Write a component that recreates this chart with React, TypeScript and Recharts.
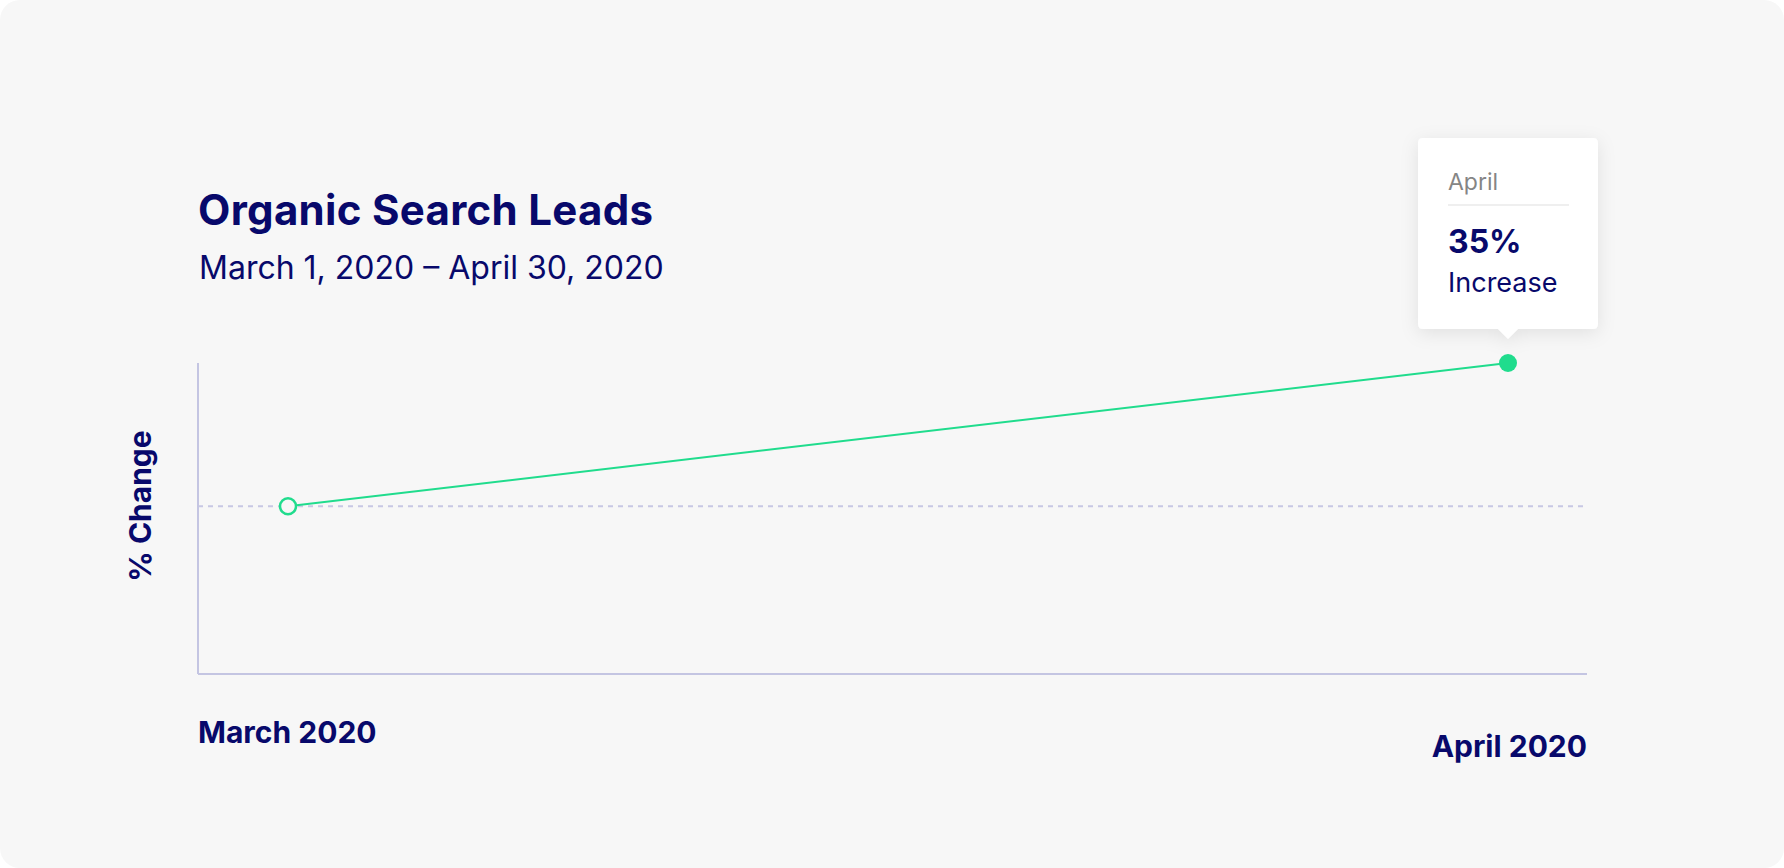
import React from "react";
import { LineChart, Line, XAxis, YAxis, ReferenceLine } from "recharts";

const months = ["March 2020", "April 2020"];
const changeValues = [0, 35];
const tooltipMonth = "April";
const tooltipValue = "35%";
const tooltipLabel = "Increase";

const data = months.map((m, i) => ({ month: m, change: changeValues[i] }));

const NAVY = "#08096b";
const GREEN = "#20dc8d";
const AXIS = "#c4c5e2";
const CARD = "#f7f7f7";
const FONT = "Inter, 'Noto Sans', sans-serif";

const MonthTick = (props: any) => {
  const { x, y, payload, index } = props;
  const first = index === 0;
  return (
    <text
      x={first ? x - 90 : x + 79}
      y={y}
      dy={first ? 69 : 83}
      textAnchor={first ? "start" : "end"}
      fill={NAVY}
      fontFamily={FONT}
      fontWeight={700}
      fontSize={30}
    >
      {payload.value}
    </text>
  );
};

const renderDot = (props: any) => {
  const { cx, cy, index } = props;
  if (index === 0) {
    return <circle key="dot-0" cx={cx} cy={cy} r={8} fill={CARD} stroke={GREEN} strokeWidth={2.5} />;
  }
  // tooltip card above the last point
  const w = 180;
  const h = 191;
  const left = cx - w / 2;
  const top = cy - 225;
  const bottom = top + h;
  const r = 5;
  const path = `M${left + r},${top} H${left + w - r} Q${left + w},${top} ${left + w},${top + r} V${bottom - r} Q${left + w},${bottom} ${left + w - r},${bottom} H${cx + 10} L${cx},${bottom + 10} L${cx - 10},${bottom} H${left + r} Q${left},${bottom} ${left},${bottom - r} V${top + r} Q${left},${top} ${left + r},${top} Z`;
  return (
    <g key={`dot-${index}`}>
      <defs>
        <filter id="tipShadow" x="-40%" y="-40%" width="180%" height="180%">
          <feDropShadow dx="0" dy="4" stdDeviation="9" floodColor="#000" floodOpacity="0.09" />
        </filter>
      </defs>
      <path d={path} fill="#fff" filter="url(#tipShadow)" />
      <text x={left + 30} y={top + 52} fill="#858585" fontFamily={FONT} fontSize={23}>
        {tooltipMonth}
      </text>
      <line x1={left + 30} x2={left + 151} y1={top + 67} y2={top + 67} stroke="#efefef" strokeWidth={2} />
      <text x={left + 30} y={top + 115} fill={NAVY} fontFamily={FONT} fontWeight={700} fontSize={32}>
        {tooltipValue}
      </text>
      <text x={left + 30} y={top + 154} fill={NAVY} fontFamily={FONT} fontSize={27}>
        {tooltipLabel}
      </text>
      <circle cx={cx} cy={cy} r={9} fill={GREEN} />
    </g>
  );
};

const App = () => {
  return (
    <div style={{ position: "absolute", left: 0, top: 0, width: 1784, height: 868, background: "#fff" }}>
      <div
        style={{
          position: "absolute",
          left: 0,
          top: 0,
          width: 1784,
          height: 868,
          background: CARD,
          borderRadius: 20,
          fontFamily: FONT,
          color: NAVY,
        }}
      >
        <div style={{ position: "absolute", left: 198, top: 189, fontSize: 42, fontWeight: 700, lineHeight: 1, whiteSpace: "nowrap", letterSpacing: 0.3 }}>
          Organic Search Leads
        </div>
        <div style={{ position: "absolute", left: 199, top: 252, fontSize: 32, lineHeight: 1, whiteSpace: "nowrap" }}>
          March 1, 2020 – April 30, 2020
        </div>
        <div
          style={{
            position: "absolute",
            left: 140,
            top: 506,
            fontSize: 30,
            fontWeight: 700,
            lineHeight: 1,
            whiteSpace: "nowrap",
            transform: "translate(-50%, -50%) rotate(-90deg)",
          }}
        >
          % Change
        </div>
        <div style={{ position: "absolute", left: 0, top: 0 }}>
          <LineChart width={1784} height={868} data={data} margin={{ top: 363, right: 197, left: 188, bottom: 94 }}>
            <XAxis
              dataKey="month"
              height={100}
              padding={{ left: 90, right: 79 }}
              axisLine={{ stroke: AXIS, strokeWidth: 2 }}
              tickLine={false}
              tickSize={0}
              tickMargin={0}
              tick={<MonthTick />}
              interval={0}
            />
            <YAxis
              domain={[-41, 35]}
              width={10}
              tick={false}
              tickLine={false}
              axisLine={{ stroke: AXIS, strokeWidth: 2 }}
            />
            <ReferenceLine y={0} stroke="#c8c8e4" strokeWidth={2} strokeDasharray="5 5" />
            <Line
              type="linear"
              dataKey="change"
              stroke={GREEN}
              strokeWidth={2}
              dot={renderDot}
              activeDot={false}
              isAnimationActive={false}
            />
          </LineChart>
        </div>
      </div>
    </div>
  );
};

export default App;
